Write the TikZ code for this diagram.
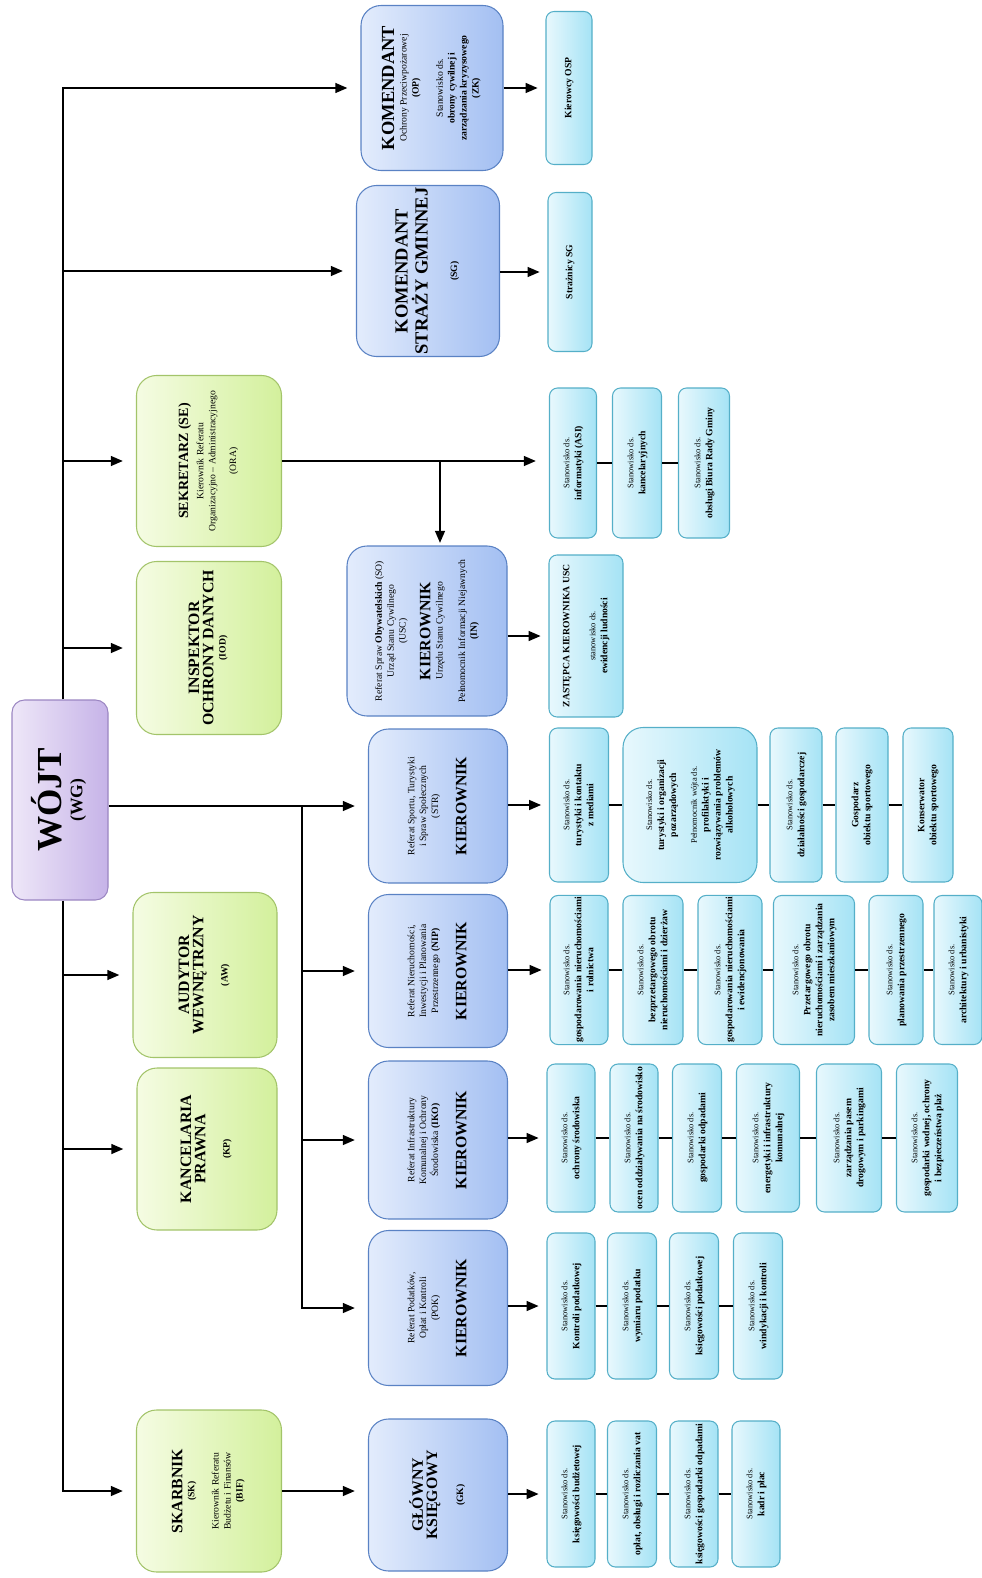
\documentclass[tikz,border=0pt]{standalone}
\usepackage{fontspec}
\setmainfont{Liberation Serif}
\usepackage{graphicx}
\usetikzlibrary{arrows.meta}

\definecolor{wojtline}{HTML}{9B86C2}
\definecolor{wojtlight}{HTML}{EEE7F8}
\definecolor{wojtdark}{HTML}{C6B3E8}
\definecolor{greenline}{HTML}{A3C46A}
\definecolor{greenlight}{HTML}{F5FCE3}
\definecolor{greendark}{HTML}{D3F09C}
\definecolor{blueline}{HTML}{5A82C4}
\definecolor{bluelight}{HTML}{E3ECFC}
\definecolor{bluedark}{HTML}{A3BFF2}
\definecolor{cyanline}{HTML}{55AFC8}
\definecolor{cyanlight}{HTML}{E8F8FD}
\definecolor{cyandark}{HTML}{A5E3F5}

\newcommand{\vtext}[1]{\rotatebox{90}{\begin{tabular}{@{}c@{}}#1\end{tabular}}}
\newcommand{\ttl}[1]{{\fontsize{9}{10}\selectfont\bfseries\rule[-2.2pt]{0pt}{7.8pt}#1}}
\newcommand{\btl}[1]{{\fontsize{10.5}{11}\selectfont\bfseries\rule[-2.4pt]{0pt}{8.4pt}#1}}
\newcommand{\sm}[1]{{\mdseries\fontsize{4.8}{6.8}\selectfont #1}}

\tikzset{
  ln/.style={line width=0.8pt},
  arr/.style={ln, -{Triangle[length=2.4mm,width=2mm]}, shorten >=4.5pt},
  far/.style={shorten >=7.5pt},
  sz/.style 2 args={minimum width=#1*0.02cm, minimum height=#2*0.02cm},
  orgbox/.style={draw, line width=0.6pt, inner sep=1pt, align=center},
  wbox/.style={orgbox, rounded corners=0.25cm, draw=wojtline, left color=wojtlight, right color=wojtdark},
  gbox/.style={orgbox, rounded corners=0.4cm, draw=greenline, left color=greenlight, right color=greendark, font=\fontsize{5.5}{6.8}\selectfont},
  bbox/.style={orgbox, rounded corners=0.4cm, draw=blueline, left color=bluelight, right color=bluedark, font=\fontsize{5.5}{6.8}\selectfont},
  cbox/.style={orgbox, rounded corners=0.16cm, draw=cyanline, left color=cyanlight, right color=cyandark, font=\fontsize{5.5}{6.8}\selectfont\bfseries},
}

\begin{document}
\begin{tikzpicture}[x=0.02cm, y=-0.02cm]
    \useasboundingbox (0,0) rectangle (981,1578);

    % Wojt
    \node[wbox, sz={96}{200}] (wojt) at (60,800) {\vtext{{\fontsize{20}{22}\selectfont\bfseries WÓJT}\\ \textbf{(WG)}}};

    % green column
    \node[gbox, sz={145}{171}] (sek) at (209,461) {\vtext{{\fontsize{8}{9}\selectfont\bfseries SEKRETARZ (SE)}\\[2pt] Kierownik Referatu\\ Organizacyjno – Administracyjnego\\[5pt] (ORA)}};
    \node[gbox, sz={145}{173}] (iod) at (209,648) {\vtext{\ttl{INSPEKTOR}\\ \ttl{OCHRONY DANYCH}\\ \textbf{(IOD)}}};
    \node[gbox, sz={144}{165}] (aw) at (205,975) {\vtext{\ttl{AUDYTOR}\\ \ttl{WEWNĘTRZNY}\\[7pt] \textbf{(AW)}}};
    \node[gbox, sz={140}{162}] (kp) at (207,1149) {\vtext{\ttl{KANCELARIA}\\ \ttl{PRAWNA}\\[7pt] \textbf{(KP)}}};
    \node[gbox, sz={145}{162}] (sk) at (209,1491) {\vtext{\ttl{SKARBNIK}\\ \textbf{(SK)}\\[7pt] Kierownik Referatu\\ Budżetu i Finansów\\ \textbf{(BIF)}}};

    % blue column
    \node[bbox, sz={142}{165}] (op) at (432,88) {\vtext{\btl{KOMENDANT}\\ Ochrony Przeciwpożarowej\\ \textbf{(OP)}\\[7pt] Stanowisko ds.\\ \textbf{obrony cywilnej i}\\ \textbf{zarządzania kryzysowego}\\ \textbf{(ZK)}}};
    \node[bbox, sz={143}{171}] (sg) at (428,271) {\vtext{\btl{KOMENDANT}\\ \btl{STRAŻY GMINNEJ}\\[10pt] \textbf{(SG)}}};
    \node[bbox, sz={160}{170}] (usc) at (427,631) {\vtext{Referat Spraw \textbf{Obywatelskich} (SO)\\ Urząd Stanu Cywilnego\\ (USC)\\[6pt] \ttl{KIEROWNIK}\\ Urzędu Stanu Cywilnego\\[6pt] Pełnomocnik Informacji Niejawnych\\ \textbf{(IN)}}};
    \node[bbox, sz={139}{154}] (str) at (438,806) {\vtext{Referat Sportu, Turystyki\\ i Spraw Społecznych\\ (STR)\\[8pt] \ttl{KIEROWNIK}}};
    \node[bbox, sz={139}{153}] (nip) at (438,971) {\vtext{Referat Nieruchomości,\\ Inwestycji i Planowania\\ Przestrzennego \textbf{(NIP)}\\[8pt] \ttl{KIEROWNIK}}};
    \node[bbox, sz={139}{158}] (iko) at (438,1140) {\vtext{Referat Infrastruktury\\ Komunalnej i Ochrony\\ Środowiska \textbf{(IKO)}\\[8pt] \ttl{KIEROWNIK}}};
    \node[bbox, sz={139}{155}] (pok) at (438,1308) {\vtext{Referat Podatków,\\ Opłat i Kontroli\\ (POK)\\[8pt] \ttl{KIEROWNIK}}};
    \node[bbox, sz={139}{152}] (gk) at (438,1495) {\vtext{\ttl{GŁÓWNY}\\ \ttl{KSIĘGOWY}\\[8pt] \textbf{(GK)}}};

    % cyan boxes
    \node[cbox, sz={46}{153}] (kosp) at (569,88) {\vtext{Kierowcy OSP}};
    \node[cbox, sz={44}{159}] (ssg) at (570,272) {\vtext{Strażnicy SG}};

    \node[cbox, sz={47}{150}] (asi) at (573,463) {\vtext{\sm{Stanowisko ds.}\\ informatyki (ASI)}};
    \node[cbox, sz={49}{150}] (kanc) at (637,463) {\vtext{\sm{Stanowisko ds.}\\ kancelaryjnych}};
    \node[cbox, sz={51}{150}] (biuro) at (704,463) {\vtext{\sm{Stanowisko ds.}\\ obsługi Biura Rady Gminy}};
    \node[cbox, sz={74}{162}] (zast) at (586,636) {\vtext{ZASTĘPCA KIEROWNIKA USC\\[8pt] \sm{stanowisko ds.}\\ ewidencji ludności}};

    \node[cbox, sz={59}{154}] (s1) at (579,805) {\vtext{\sm{Stanowisko ds.}\\ turystyki i kontaktu\\ z mediami}};
    \node[cbox, sz={134}{155}, rounded corners=0.4cm] (s2) at (690,805) {\vtext{\sm{Stanowisko ds.}\\ turystyki i organizacji\\ pozarządowych\\[5pt] \sm{Pełnomocnik wójta ds.}\\ profilaktyki i\\ rozwiązywania problemów\\ alkoholowych}};
    \node[cbox, sz={52}{154}] (s3) at (796,805) {\vtext{\sm{Stanowisko ds.}\\ działalności gospodarczej}};
    \node[cbox, sz={52}{154}] (s4) at (862,805) {\vtext{Gospodarz\\ obiektu sportowego}};
    \node[cbox, sz={50}{154}] (s5) at (928,805) {\vtext{Konserwator\\ obiektu sportowego}};

    \node[cbox, sz={58}{149}] (n1) at (579,970) {\vtext{\sm{Stanowisko ds.}\\ gospodarowania nieruchomościami\\ i rolnictwa}};
    \node[cbox, sz={60}{149}] (n2) at (653,970) {\vtext{\sm{Stanowisko ds.}\\ bezprzetargowego obrotu\\ nieruchomościami i dzierżaw}};
    \node[cbox, sz={64}{149}] (n3) at (730,970) {\vtext{\sm{Stanowisko ds.}\\ gospodarowania nieruchomościami\\ i ewidencjonowania}};
    \node[cbox, sz={81}{149}] (n4) at (814,970) {\vtext{\sm{Stanowisko ds.}\\ Przetargowego obrotu\\ nieruchomościami i zarządzania\\ zasobem mieszkaniowym}};
    \node[cbox, sz={54}{149}] (n5) at (896,970) {\vtext{\sm{Stanowisko ds.}\\ planowania przestrzennego}};
    \node[cbox, sz={48}{149}] (n6) at (958,970) {\vtext{\sm{Stanowisko ds.}\\ architektury i urbanistyki}};

    \node[cbox, sz={48}{148}] (i1) at (571,1138) {\vtext{\sm{Stanowisko ds.}\\ ochrony środowiska}};
    \node[cbox, sz={48}{148}] (i2) at (634,1138) {\vtext{\sm{Stanowisko ds.}\\ ocen oddziaływania na środowisko}};
    \node[cbox, sz={49}{148}] (i3) at (697,1138) {\vtext{\sm{Stanowisko ds.}\\ gospodarki odpadami}};
    \node[cbox, sz={63}{148}] (i4) at (768,1138) {\vtext{\sm{Stanowisko ds.}\\ energetyki i infrastruktury\\ komunalnej}};
    \node[cbox, sz={65}{148}] (i5) at (849,1138) {\vtext{\sm{Stanowisko ds.}\\ zarządzania pasem\\ drogowym i parkingami}};
    \node[cbox, sz={61}{148}] (i6) at (927,1138) {\vtext{\sm{Stanowisko ds.}\\ gospodarki wodnej, ochrony\\ i bezpieczeństwa plaż}};

    \node[cbox, sz={48}{146}] (p1) at (571,1306) {\vtext{\sm{Stanowisko ds.}\\ Kontroli podatkowej}};
    \node[cbox, sz={49}{146}] (p2) at (632,1306) {\vtext{\sm{Stanowisko ds.}\\ wymiaru podatku}};
    \node[cbox, sz={49}{146}] (p3) at (694,1306) {\vtext{\sm{Stanowisko ds.}\\ księgowości podatkowej}};
    \node[cbox, sz={49}{146}] (p4) at (758,1306) {\vtext{\sm{Stanowisko ds.}\\ windykacji i kontroli}};

    \node[cbox, sz={48}{146}] (g1) at (571,1494) {\vtext{\sm{Stanowisko ds.}\\ księgowości budżetowej}};
    \node[cbox, sz={49}{146}] (g2) at (632,1494) {\vtext{\sm{Stanowisko ds.}\\ opłat, obsługi i rozliczania vat}};
    \node[cbox, sz={48}{146}] (g3) at (694,1494) {\vtext{\sm{Stanowisko ds.}\\ księgowości gospodarki odpadami}};
    \node[cbox, sz={48}{146}] (g4) at (756,1494) {\vtext{\sm{Stanowisko ds.}\\ kadr i płac}};

    % trunk from the Wojt
    \coordinate (tr) at (63,800);
    \draw[arr,far] (wojt.north -| tr) |- (op.west);
    \draw[arr,far] (tr |- sg.west) -- (sg.west);
    \draw[arr,far] (tr |- sek.west) -- (sek.west);
    \draw[arr,far] (tr |- iod.west) -- (iod.west);
    \draw[arr,far] (wojt.south -| tr) |- (sk.west);
    \draw[arr,far] (tr |- aw.west) -- (aw.west);
    \draw[arr,far] (tr |- kp.west) -- (kp.west);

    % referaty
    \coordinate (br) at (302,806);
    \draw[arr,far] (wojt.east |- str.west) -- (str.west);
    \draw[arr,far] (br |- nip.west) -- (nip.west);
    \draw[arr,far] (br |- iko.west) -- (iko.west);
    \draw[arr,far] (br) |- (pok.west);
    \draw[arr,far] (sk.east) -- (sk.east -| gk.west);

    % Sekretarz
    \coordinate (sj) at (440,461);
    \draw[arr,far] (sek.east) -- (sek.east -| asi.west);
    \draw[arr, shorten >=1.5pt] (sj) -- (sj |- usc.north);

    % down to the posts
    \draw[arr] (op.east |- kosp.west) -- (kosp.west);
    \draw[arr] (sg.east |- ssg.west) -- (ssg.west);
    \draw[arr] (usc.east |- zast.west) -- (zast.west);
    \draw[arr] (str.east |- s1.west) -- (s1.west);
    \draw[arr] (nip.east |- n1.west) -- (n1.west);
    \draw[arr] (iko.east |- i1.west) -- (i1.west);
    \draw[arr] (pok.east |- p1.west) -- (p1.west);
    \draw[arr] (gk.east |- g1.west) -- (g1.west);

    \foreach \a/\b in {asi/kanc,kanc/biuro,s1/s2,s2/s3,s3/s4,s4/s5,n1/n2,n2/n3,n3/n4,n4/n5,n5/n6,
                       i1/i2,i2/i3,i3/i4,i4/i5,i5/i6,p1/p2,p2/p3,p3/p4,g1/g2,g2/g3,g3/g4}
        \draw[ln] (\a) -- (\b);
\end{tikzpicture}
\end{document}
